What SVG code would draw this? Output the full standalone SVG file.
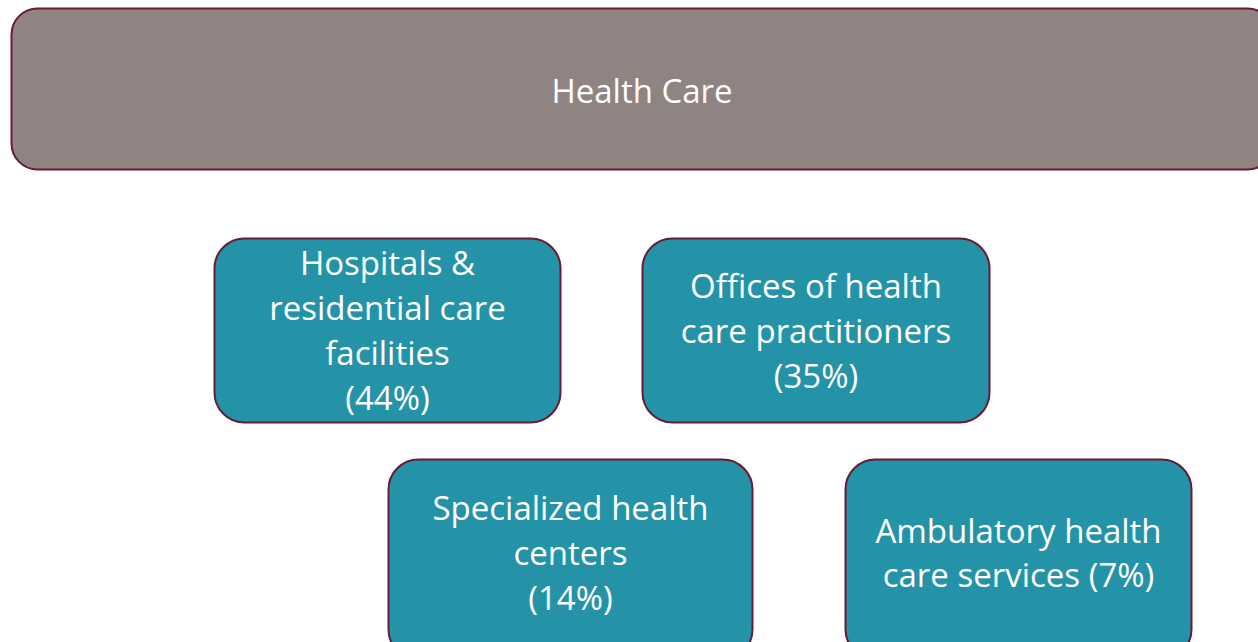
<svg xmlns="http://www.w3.org/2000/svg" width="1258" height="642" viewBox="0 0 1258 642">
<style>
.box{fill:#2493a8;stroke:#6b1a35;stroke-width:2}
.top{fill:#8f8482;stroke:#6b1a35;stroke-width:2}
text{font-family:"Open Sans","Liberation Sans",Arial,sans-serif;font-size:33px;fill:#ffffff;text-anchor:middle}
</style>
<rect width="1258" height="642" fill="#ffffff"/>
<g id="connectors"></g>
<g id="health-care">
<rect class="top" x="11.5" y="8.5" width="1262" height="161" rx="26"/>
<text x="642" y="103">Health Care</text>
</g>
<g id="hospitals">
<rect class="box" x="214.5" y="238.5" width="346" height="184" rx="30"/>
<text x="387.5" y="275">Hospitals &amp;</text>
<text x="387.5" y="320">residential care</text>
<text x="387.5" y="365">facilities</text>
<text x="387.5" y="410">(44%)</text>
</g>
<g id="offices">
<rect class="box" x="642.5" y="238.5" width="347" height="184" rx="30"/>
<text x="816" y="298">Offices of health</text>
<text x="816" y="343">care practitioners</text>
<text x="816" y="388">(35%)</text>
</g>
<g id="specialized">
<rect class="box" x="388.5" y="459.5" width="364" height="200" rx="30"/>
<text x="570.5" y="520">Specialized health</text>
<text x="570.5" y="565">centers</text>
<text x="570.5" y="610">(14%)</text>
</g>
<g id="ambulatory">
<rect class="box" x="845.5" y="459.5" width="346" height="200" rx="30"/>
<text x="1018.5" y="543">Ambulatory health</text>
<text x="1018.5" y="587">care services (7%)</text>
</g>
</svg>
